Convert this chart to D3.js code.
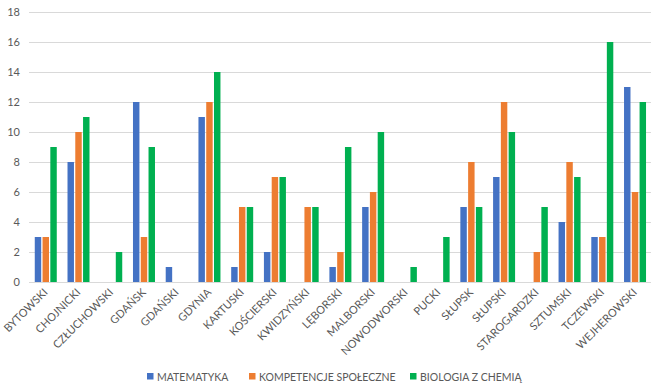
<!DOCTYPE html>
<html><head><meta charset="utf-8">
<script src="https://cdn.jsdelivr.net/npm/d3@7"></script>
<style>body{margin:0;background:#fff}svg{display:block}text{font-family:Lato,"Open Sans",sans-serif}</style>
</head><body><svg id="c" width="660" height="392"></svg>
<script>
const categories = ["BYTOWSKI","CHOJNICKI","CZŁUCHOWSKI","GDAŃSK","GDAŃSKI","GDYNIA","KARTUSKI","KOŚCIERSKI","KWIDZYŃSKI","LĘBORSKI","MALBORSKI","NOWODWORSKI","PUCKI","SŁUPSK","SŁUPSKI","STAROGARDZKI","SZTUMSKI","TCZEWSKI","WEJHEROWSKI"];
const seriesNames = ["MATEMATYKA","KOMPETENCJE SPOŁECZNE","BIOLOGIA Z CHEMIĄ"];
const matematyka = [3,8,0,12,1,11,1,2,0,1,5,0,0,5,7,0,4,3,13];
const kompetencje = [3,10,0,3,0,12,5,7,5,2,6,0,0,8,12,2,8,3,6];
const biologia = [9,11,2,9,0,14,5,7,5,9,10,1,3,5,10,5,7,16,12];
const yTicks = [0,2,4,6,8,10,12,14,16,18];
const colors = ["#4472C4","#ED7D31","#00B050"];
const series = [matematyka, kompetencje, biologia];

const svg = d3.select("#c");
const x = d3.scaleBand().domain(categories).range([29,651]).paddingInner(0).paddingOuter(0);
const y = d3.scaleLinear().domain([0,18]).range([282,12]);
const xs = d3.scaleBand().domain(seriesNames).range([-10.6,11.4]).paddingInner(0.17);

// gridlines
svg.append("g").selectAll("line").data(yTicks).join("line")
  .attr("x1",29).attr("x2",651).attr("y1",d=>y(d)+0.5).attr("y2",d=>y(d)+0.5)
  .attr("stroke","#D9D9D9").attr("stroke-width",1);

// y labels
svg.append("g").selectAll("text").data(yTicks).join("text")
  .attr("x",20).attr("y",d=>y(d)+4).attr("text-anchor","end")
  .attr("font-size",11).attr("fill","#595959").text(d=>d);

// bars
series.forEach((vals,si)=>{
  svg.append("g").selectAll("rect").data(vals).join("rect")
    .attr("x",(d,i)=>x(categories[i])+x.bandwidth()/2+xs(seriesNames[si]))
    .attr("width",xs.bandwidth())
    .attr("y",d=>y(d)).attr("height",d=>y(0)-y(d))
    .attr("fill",colors[si]);
});

// x labels
svg.append("g").selectAll("text").data(categories).join("text")
  .attr("transform",d=>`translate(${x(d)+x.bandwidth()/2+3},${293}) rotate(-45)`)
  .attr("text-anchor","end").attr("font-size",11).attr("fill","#595959").text(d=>d);

// legend
const legendX = [147,249,410];
const lg = svg.append("g");
seriesNames.forEach((n,i)=>{
  lg.append("rect").attr("x",legendX[i]).attr("y",373).attr("width",6.5).attr("height",6.5).attr("fill",colors[i]);
  lg.append("text").attr("x",legendX[i]+10).attr("y",381).attr("font-size",10.5).attr("fill","#595959").text(n);
});
</script></body></html>
